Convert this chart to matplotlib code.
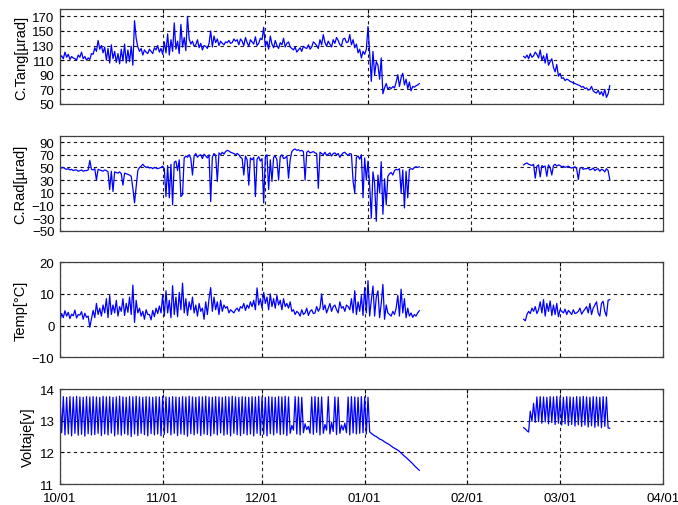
import numpy as np
import matplotlib
matplotlib.use('Agg')
import matplotlib.pyplot as plt

plt.rcParams['font.family'] = ['Liberation Sans', 'DejaVu Sans']
plt.rcParams['font.size'] = 9.5

# sample times in days since 10/01, two samples per day
t_a = np.arange(0, 109, 0.5)
t_b = np.arange(140, 166.5, 0.5)

tang_a = [113, 116, 112, 121, 114, 118, 111, 115, 113, 112, 110, 117, 114, 121, 112, 115, 110, 113, 111, 119,
          118, 127, 122, 137, 125, 130, 120, 128, 110, 126, 106, 131, 112, 122, 107, 119, 105, 125, 109, 132,
          106, 124, 108, 129, 103, 164, 140, 128, 122, 126, 117, 124, 121, 119, 125, 122, 119, 127, 124, 130,
          121, 126, 118, 135, 120, 146, 117, 138, 122, 161, 125, 136, 119, 159, 128, 141, 123, 170, 139, 132,
          136, 129, 131, 138, 127, 133, 124, 130, 129, 126, 133, 150, 128, 143, 134, 139, 130, 136, 133, 131,
          135, 134, 137, 133, 134, 139, 136, 138, 131, 139, 136, 130, 141, 134, 129, 138, 135, 132, 142, 130,
          133, 140, 138, 155, 128, 136, 125, 143, 132, 127, 137, 130, 126, 134, 131, 140, 128, 133, 135, 128,
          126, 124, 128, 121, 124, 127, 122, 129, 127, 126, 131, 125, 128, 135, 133, 130, 126, 138, 131, 145,
          134, 129, 136, 132, 128, 138, 133, 141, 137, 131, 130, 139, 140, 134, 135, 145, 131, 138, 127, 132,
          120, 125, 113, 122, 118, 125, 156, 120, 81, 122, 90, 108, 103, 84, 113, 64, 72, 78, 70, 73,
          71, 74, 72, 80, 90, 74, 86, 92, 76, 84, 71, 80, 68, 74, 73, 75, 76, 78]
tang_b = [115, 113, 117, 112, 119, 114, 116, 121, 118, 113, 124, 110, 116, 106, 119, 103, 108, 112, 100, 94,
          104, 88, 92, 85, 86, 82, 84, 83, 81, 80, 79, 78, 77, 76, 75, 73, 74, 71, 72, 69,
          70, 74, 68, 66, 65, 69, 63, 67, 61, 70, 59, 64, 75]

rad_a = [50, 49, 50, 48, 47, 48, 46, 47, 45, 46, 46, 44, 45, 46, 44, 45, 45, 46, 61, 47,
         46, 48, 30, 47, 46, 45, 44, 46, 45, 43, 15, 44, 12, 43, 42, 41, 43, 40, 22, 41,
         40, 39, 38, 36, 17, -6, 20, 45, 50, 52, 55, 52, 50, 51, 49, 50, 48, 50, 49, 48,
         49, 50, 52, 48, 4, 53, 2, 55, -9, 58, 60, 45, 62, 4, 7, 65, 68, 66, 70, 64,
         38, 68, 72, 66, 69, 70, 64, 71, 68, 65, 70, -4, 66, 72, 69, 28, 73, 70, 74, 71,
         75, 77, 76, 74, 73, 72, 70, 72, 70, 66, 64, 38, 68, 62, 22, 65, 62, 66, 4, 63,
         67, 60, 64, -6, 66, 70, 15, 62, 28, 66, 68, 62, 30, 67, 70, 64, 65, 68, 33, 62,
         75, 78, 79, 77, 78, 76, 77, 75, 30, 74, 76, 73, 74, 75, 73, 72, 17, 74, 72, 70,
         74, 69, 71, 73, 68, 72, 73, 70, 72, 66, 70, 73, 74, 71, 69, 72, 71, 28, 10, 66,
         68, 63, 70, 2, 65, 30, 60, 22, -30, 43, 25, -35, 38, 10, 59, -24, 32, -9, 36, 40,
         42, 38, 45, 47, 46, 48, 10, 46, -14, 44, 2, 47, 48, 47, 50, 51, 50, 51]
rad_b = [54, 56, 57, 55, 54, 53, 55, 33, 52, 54, 35, 53, 51, 52, 36, 54, 50, 38, 53, 55,
         52, 54, 53, 51, 52, 50, 51, 52, 50, 49, 50, 51, 48, 31, 49, 50, 47, 48, 48, 49,
         46, 47, 49, 45, 47, 48, 44, 47, 46, 43, 48, 45, 31]

temp_a = [1.5, 3.8, 2.5, 4.7, 3.0, 4.2, 2.2, 3.6, 3.1, 4.9, 2.4, 3.5, 3.3, 4.4, 2.0, 3.9, 2.6, 3.0, -0.5, 2.2,
          4.8, 2.5, 7.0, 3.5, 5.5, 3.0, 6.5, 4.0, 8.5, 2.5, 9.5, 3.5, 6.5, 4.0, 8.0, 3.0, 6.0, 4.5, 8.5, 3.2,
          7.0, 4.2, 9.0, 3.5, 12.8, 1.0, 8.0, 4.0, 5.5, 3.0, 4.5, 2.0, 5.0, 3.5, 3.5, 1.8, 4.8, 2.8, 5.5, 3.8,
          6.2, 4.0, 9.5, 3.0, 11.0, 4.0, 8.0, 2.5, 12.6, 3.5, 9.0, 2.8, 10.5, 5.0, 13.4, 4.0, 8.5, 3.2, 7.5, 5.0,
          9.0, 4.0, 6.5, 3.0, 7.0, 4.5, 5.5, 2.0, 7.5, 3.5, 8.5, 12.0, 4.5, 9.0, 5.0, 7.5, 3.5, 8.0, 4.5, 6.5,
          5.5, 6.0, 4.0, 5.0, 4.5, 4.0, 5.0, 5.5, 4.5, 6.0, 5.5, 7.0, 4.8, 6.5, 5.5, 7.5, 6.0, 8.0, 5.0, 11.9,
          6.5, 8.5, 5.5, 10.5, 7.0, 9.0, 5.0, 10.0, 6.0, 8.5, 5.5, 9.5, 6.5, 8.0, 5.0, 8.5, 6.0, 7.0, 5.5, 7.5,
          4.5, 5.0, 3.5, 4.5, 4.0, 3.0, 5.0, 3.5, 4.0, 5.5, 3.2, 4.5, 5.0, 3.8, 4.0, 6.0, 4.5, 5.5, 10.0, 5.0,
          6.5, 4.0, 5.5, 7.0, 4.5, 6.0, 6.5, 5.0, 4.0, 7.5, 5.5, 6.0, 4.5, 6.5, 6.0, 5.0, 8.5, 4.0, 11.0, 3.5,
          7.5, 4.5, 9.5, 3.2, 12.0, 4.0, 14.2, 3.0, 8.0, 12.5, 3.0, 9.0, 11.0, 2.5, 7.0, 13.0, 2.0, 6.5, 4.0, 3.5,
          3.0, 4.5, 3.5, 5.5, 9.5, 3.0, 11.5, 4.0, 8.5, 2.5, 5.5, 3.0, 4.0, 2.6, 3.5, 3.0, 4.0, 4.7]
temp_b = [2.0, 1.5, 3.5, 4.5, 3.8, 5.5, 4.5, 6.0, 3.8, 5.0, 7.5, 4.0, 8.2, 3.0, 7.0, 4.5, 7.8, 3.2, 6.5, 3.5,
          7.0, 2.8, 5.0, 4.5, 4.0, 5.2, 3.5, 4.8, 4.2, 3.5, 5.0, 3.8, 4.0, 4.5, 5.5, 3.6, 4.5, 5.2, 6.0, 4.0,
          7.0, 3.5, 5.5, 6.5, 7.5, 4.0, 3.0, 7.0, 7.7, 4.5, 3.0, 8.0, 8.2]

volt_a = [13.75, 12.62, 13.76, 12.55, 13.74, 12.58, 13.76, 12.52, 13.75, 12.60, 13.77, 12.54, 13.75, 12.57, 13.74, 12.51, 13.76, 12.59, 13.75, 12.55,
          13.76, 12.56, 13.75, 12.60, 13.74, 12.53, 13.77, 12.58, 13.75, 12.55, 13.76, 12.61, 13.74, 12.52, 13.75, 12.57, 13.77, 12.54, 13.75, 12.59,
          13.74, 12.55, 13.76, 12.50, 13.75, 12.58, 13.77, 12.53, 13.75, 12.60, 13.74, 12.56, 13.76, 12.52, 13.75, 12.59, 13.74, 12.55, 13.76, 12.58,
          13.75, 12.52, 13.77, 12.57, 13.75, 12.62, 13.74, 12.55, 13.76, 12.60, 13.75, 12.53, 13.74, 12.58, 13.76, 12.56, 13.75, 12.51, 13.77, 12.59,
          13.75, 12.55, 13.74, 12.60, 13.76, 12.53, 13.75, 12.58, 13.77, 12.56, 13.75, 12.52, 13.74, 12.59, 13.76, 12.55, 13.75, 12.61, 13.74, 12.54,
          13.76, 12.57, 13.75, 12.52, 13.77, 12.60, 13.75, 12.56, 13.74, 12.53, 13.76, 12.59, 13.75, 12.55, 13.74, 12.58, 13.76, 12.52, 13.75, 12.60,
          13.77, 12.54, 13.75, 12.57, 13.74, 12.52, 13.76, 12.59, 13.75, 12.55, 13.74, 12.61, 13.76, 12.56, 13.75, 12.58, 13.77, 12.53, 13.75, 12.60,
          12.85, 12.70, 13.76, 12.58, 13.75, 12.55, 13.74, 12.62, 12.90, 12.72, 12.82, 12.60, 13.75, 12.57, 13.76, 12.63, 13.74, 12.55, 13.75, 12.60,
          12.88, 12.70, 13.76, 12.58, 12.95, 12.66, 13.75, 12.56, 13.74, 12.60, 12.86, 12.70, 12.92, 12.62, 13.75, 12.55, 13.76, 12.61, 13.75, 12.58,
          13.74, 12.60, 13.76, 12.62, 13.75, 12.58, 13.74, 12.65,
          12.60, 12.56, 12.52, 12.50, 12.46, 12.42, 12.40, 12.37, 12.33, 12.30, 12.27, 12.24, 12.20, 12.16, 12.13,
          12.10, 12.07, 12.03, 11.98, 11.93, 11.88, 11.84, 11.79, 11.74, 11.69, 11.64, 11.58, 11.53, 11.48, 11.43]
volt_b = [12.78, 12.74, 12.68, 12.64, 13.30, 12.98, 13.55, 12.95, 13.75, 12.97, 13.76, 12.92, 13.75, 12.96, 13.74, 12.90, 13.76, 12.94, 13.75, 12.88,
          13.77, 12.92, 13.75, 12.86, 13.74, 12.90, 13.76, 12.85, 13.75, 12.88, 13.74, 12.83, 13.76, 12.87, 13.75, 12.82, 13.77, 12.86, 13.75, 12.80,
          13.74, 12.84, 13.76, 12.79, 13.75, 12.83, 13.74, 12.78, 13.76, 12.82, 13.75, 12.77, 12.76]

month_days = [0, 31, 61, 92, 123, 151, 182]
month_labels = ['10/01', '11/01', '12/01', '01/01', '02/01', '03/01', '04/01']
step_days = [0, 31, 62, 93, 124, 155]

panels = [
    ('C.Tang[\u00b5rad]', tang_a, tang_b, (50, 180), np.arange(50, 171, 20), step_days),
    ('C.Rad[\u00b5rad]', rad_a, rad_b, (-50, 100), np.arange(-50, 91, 20), step_days),
    ('Temp[\u00b0C]', temp_a, temp_b, (-10, 20), [-10, 0, 10, 20], month_days),
    ('Voltaje[v]', volt_a, volt_b, (11, 14), [11, 12, 13, 14], month_days),
]

fig = plt.figure(figsize=(6.78, 5.06), dpi=100)
bottoms = [0.7925, 0.542, 0.292, 0.0415]

for i, (label, ya, yb, ylim, yticks, xticks) in enumerate(panels):
    ax = fig.add_axes([0.0885, bottoms[i], 0.889, 0.1877])
    ax.plot(t_a, ya, color='#0000ff', lw=0.9)
    ax.plot(t_b, yb, color='#0000ff', lw=0.9)
    ax.set_xlim(0, 182)
    ax.set_ylim(*ylim)
    ax.set_yticks(yticks)
    ax.set_xticks(xticks)
    if i == 3:
        ax.set_xticklabels(month_labels)
    else:
        ax.set_xticklabels([])
    ax.grid(True, color='0.1', linestyle=(0, (3, 3)), linewidth=0.8)
    ax.tick_params(direction='in', length=3, width=0.8, top=True, right=True, pad=4)
    ax.tick_params(axis='x', pad=6)
    for s in ax.spines.values():
        s.set_color('0.25')
        s.set_linewidth(0.9)
    ax.set_ylabel(label, fontsize=10.5, labelpad=3)

fig.savefig('out.png', dpi=100)
